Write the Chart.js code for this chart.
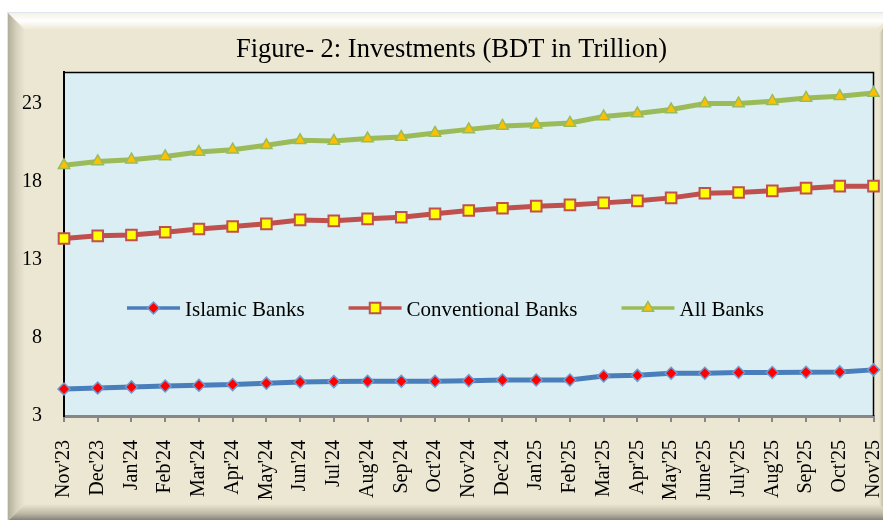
<!DOCTYPE html>
<html>
<head>
<meta charset="utf-8">
<script src="https://cdn.jsdelivr.net/npm/chart.js@4.4.0/dist/chart.umd.min.js"></script>
<style>
    body { margin: 0; background: #fff; overflow: hidden; }
    #investChart { display: block; }
</style>
</head>
<body>
<canvas id="investChart" width="883" height="520"></canvas>
<script>
// Data (BDT in Trillion)
const months = ["Nov'23", "Dec'23", "Jan'24", "Feb'24", "Mar'24", "Apr'24", "May'24", "Jun'24",
    "Jul'24", "Aug'24", "Sep'24", "Oct'24", "Nov'24", "Dec'24", "Jan'25", "Feb'25", "Mar'25",
    "Apr'25", "May'25", "June'25", "July'25", "Aug'25", "Sep'25", "Oct'25", "Nov'25"];
const islamicBanks = [4.73, 4.79, 4.86, 4.92, 4.97, 5.01, 5.10, 5.18, 5.20, 5.22, 5.22, 5.22, 5.26,
    5.30, 5.30, 5.30, 5.56, 5.60, 5.73, 5.73, 5.78, 5.78, 5.80, 5.82, 5.95];
const conventionalBanks = [14.35, 14.52, 14.58, 14.75, 14.96, 15.12, 15.29, 15.54, 15.48, 15.61, 15.71,
    15.93, 16.14, 16.29, 16.42, 16.50, 16.63, 16.76, 16.95, 17.25, 17.29, 17.40, 17.57, 17.70, 17.70];
const allBanks = [19.03, 19.28, 19.39, 19.60, 19.88, 20.03, 20.31, 20.63, 20.59, 20.74, 20.84, 21.10,
    21.33, 21.55, 21.63, 21.74, 22.15, 22.34, 22.60, 22.98, 22.98, 23.13, 23.34, 23.45, 23.66];
const yTicks = [3, 8, 13, 18, 23];

const serif = '"Liberation Serif", "Times New Roman", serif';

// Beige bevelled frame + plot background
const framePlugin = {
    id: 'frame',
    beforeDraw: (chart) => {
        const { ctx, chartArea: a } = chart;
        const W = chart.width, H = chart.height;
        ctx.save();
        ctx.fillStyle = '#ffffff';
        ctx.fillRect(0, 0, W, H);
        ctx.fillStyle = '#dce6f2';
        ctx.fillRect(7, 12, W, H);
        ctx.fillStyle = '#ece7d3';
        ctx.fillRect(8, 13, W, H);

        // top bevel
        let g = ctx.createLinearGradient(0, 13, 0, 30);
        g.addColorStop(0, '#f4f1e4');
        g.addColorStop(0.45, '#ffffff');
        g.addColorStop(1, '#ece7d3');
        ctx.fillStyle = g;
        ctx.beginPath();
        ctx.moveTo(8, 13); ctx.lineTo(W + 10, 13); ctx.lineTo(W - 7, 30); ctx.lineTo(25, 30);
        ctx.closePath(); ctx.fill();

        // left bevel
        g = ctx.createLinearGradient(8, 0, 25, 0);
        g.addColorStop(0, '#b3ae9a');
        g.addColorStop(0.5, '#d6d1bc');
        g.addColorStop(1, '#ece7d3');
        ctx.fillStyle = g;
        ctx.beginPath();
        ctx.moveTo(8, 13); ctx.lineTo(25, 30); ctx.lineTo(25, 504); ctx.lineTo(8, 521);
        ctx.closePath(); ctx.fill();

        // bottom bevel
        g = ctx.createLinearGradient(0, 504, 0, 520);
        g.addColorStop(0, '#ece7d3');
        g.addColorStop(0.6, '#bdb8a5');
        g.addColorStop(1, '#85827a');
        ctx.fillStyle = g;
        ctx.beginPath();
        ctx.moveTo(8, 521); ctx.lineTo(25, 504); ctx.lineTo(W, 504); ctx.lineTo(W, 521);
        ctx.closePath(); ctx.fill();

        // right bevel edge
        g = ctx.createLinearGradient(879, 0, W, 0);
        g.addColorStop(0, '#ece7d3');
        g.addColorStop(1, '#c6c1ad');
        ctx.fillStyle = g;
        ctx.beginPath();
        ctx.moveTo(879, 34); ctx.lineTo(W, 28); ctx.lineTo(W, 508); ctx.lineTo(879, 504);
        ctx.closePath(); ctx.fill();

        // plot area
        ctx.fillStyle = '#daeef3';
        ctx.fillRect(a.left, a.top, a.right - a.left, a.bottom - a.top);
        ctx.restore();
    },
    beforeDatasetsDraw: (chart) => {
        const { ctx, chartArea: a } = chart;
        ctx.save();
        ctx.strokeStyle = '#000000';
        ctx.lineWidth = 1.5;
        ctx.beginPath();
        ctx.moveTo(a.left, a.top + 0.5);
        ctx.lineTo(a.right, a.top + 0.5);
        ctx.lineTo(a.right, a.bottom);
        ctx.stroke();
        ctx.restore();

        // title
        ctx.save();
        ctx.fillStyle = '#000000';
        ctx.font = '26.5px ' + serif;
        ctx.textAlign = 'center';
        ctx.textBaseline = 'alphabetic';
        ctx.fillText('Figure- 2: Investments (BDT in Trillion)', 451.5, 57);
        ctx.restore();
    }
};

// Legend drawn inside the plot, line + marker like the original
const insideLegend = {
    id: 'insideLegend',
    afterDatasetsDraw: (chart) => {
        const { ctx } = chart;
        const y = 308;
        let x = 127;
        ctx.save();
        ctx.font = '21px ' + serif;
        chart.data.datasets.forEach(ds => {
            ctx.strokeStyle = ds.borderColor;
            ctx.lineWidth = 3.5;
            ctx.beginPath();
            ctx.moveTo(x, y);
            ctx.lineTo(x + 53, y);
            ctx.stroke();
            ctx.fillStyle = ds.pointBackgroundColor;
            ctx.strokeStyle = ds.pointBorderColor;
            ctx.lineWidth = ds.pointBorderWidth;
            Chart.helpers.drawPoint(ctx, {
                pointStyle: ds.pointStyle,
                radius: ds.pointRadius,
                rotation: 0,
                borderWidth: ds.pointBorderWidth
            }, x + 26.5, y);
            ctx.fillStyle = '#000000';
            ctx.textAlign = 'left';
            ctx.textBaseline = 'alphabetic';
            ctx.fillText(ds.label, x + 58, y + 8);
            x += 58 + ctx.measureText(ds.label).width + 44;
        });
        ctx.restore();
    }
};

const initializeInvestChart = () => {
    const ctx = document.getElementById('investChart').getContext('2d');
    new Chart(ctx, {
        type: 'line',
        data: {
            labels: months,
            datasets: [{
                label: 'Islamic Banks',
                data: islamicBanks,
                borderColor: '#4a7ebb',
                borderWidth: 5,
                pointStyle: 'rectRot',
                pointRadius: 6,
                pointBackgroundColor: '#ff0000',
                pointBorderColor: '#6f9bd1',
                pointBorderWidth: 1.5,
                tension: 0,
                clip: false
            }, {
                label: 'Conventional Banks',
                data: conventionalBanks,
                borderColor: '#c0504d',
                borderWidth: 5,
                pointStyle: 'rect',
                pointRadius: 7.5,
                pointBackgroundColor: '#ffff00',
                pointBorderColor: '#c0504d',
                pointBorderWidth: 2,
                tension: 0,
                clip: false
            }, {
                label: 'All Banks',
                data: allBanks,
                borderColor: '#9bbb59',
                borderWidth: 5,
                pointStyle: 'triangle',
                pointRadius: 6.5,
                pointBackgroundColor: '#ffc000',
                pointBorderColor: '#9bbb59',
                pointBorderWidth: 1.5,
                tension: 0,
                clip: false
            }]
        },
        options: {
            responsive: false,
            animation: false,
            devicePixelRatio: 1,
            layout: { padding: { left: 0, top: 72, right: 2.5, bottom: 0 } },
            plugins: {
                legend: { display: false },
                title: { display: false },
                tooltip: { enabled: false }
            },
            scales: {
                x: {
                    offset: false,
                    grid: {
                        drawOnChartArea: false,
                        drawTicks: true,
                        tickLength: 6,
                        color: '#878787',
                        lineWidth: 2
                    },
                    border: { display: true, color: '#878787', width: 3 },
                    ticks: {
                        autoSkip: false,
                        minRotation: 90,
                        maxRotation: 90,
                        padding: 18,
                        color: '#000000',
                        font: { family: serif, size: 20 }
                    },
                    afterFit: (scale) => {
                        scale.height = 104;
                        scale.paddingLeft = 0;
                        scale.paddingRight = 0;
                    }
                },
                y: {
                    min: 3,
                    max: 25,
                    grid: { display: false, drawTicks: false },
                    border: { display: true, color: '#000000', width: 2 },
                    ticks: {
                        padding: 22,
                        color: '#000000',
                        font: { family: serif, size: 20 }
                    },
                    afterBuildTicks: (scale) => {
                        scale.ticks = yTicks.map(v => ({ value: v }));
                    },
                    afterFit: (scale) => {
                        scale.width = 64;
                        scale.paddingTop = 0;
                        scale.paddingBottom = 0;
                    }
                }
            }
        },
        plugins: [framePlugin, insideLegend]
    });
};

document.addEventListener('DOMContentLoaded', () => {
    initializeInvestChart();
});
</script>
</body>
</html>
